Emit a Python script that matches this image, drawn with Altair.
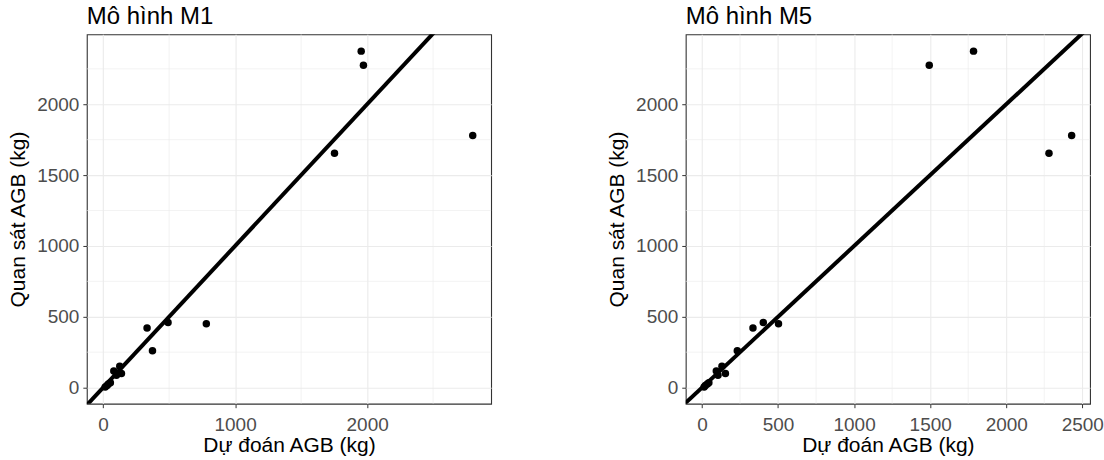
import altair as alt
import pandas as pd

# Observed AGB (kg) and predictions from two models
observed = [5, 15, 25, 35, 87, 99, 117, 150, 260, 420, 460, 450, 1655, 1780, 2275, 2375]
pred_m1 = [16, 30, 40, 55, 101, 139, 81, 126, 374, 333, 492, 782, 1753, 2800, 1972, 1955]
pred_m5 = [14, 22, 35, 45, 105, 154, 94, 131, 232, 335, 403, 503, 2281, 2430, 1494, 1785]

y_major = [0, 500, 1000, 1500, 2000]
y_minor = [250, 750, 1250, 1750, 2250]
m1_x_major = [0, 1000, 2000]
m1_x_minor = [500, 1500, 2500]
m5_x_major = [0, 500, 1000, 1500, 2000, 2500]
m5_x_minor = [250, 750, 1250, 1750, 2250]

FONT = "Liberation Sans"
GRID = "#EBEBEB"


def expanded(values, frac=0.05):
    lo, hi = min(values), max(values)
    pad = (hi - lo) * frac
    return [lo - pad, hi + pad]


def panel(title, pred, x_major, x_minor):
    pts = pd.DataFrame({"pred": pred, "obs": observed})
    xdom = expanded(pred)
    ydom = expanded(observed)
    xs = alt.Scale(domain=xdom, nice=False, zero=False)
    ys = alt.Scale(domain=ydom, nice=False, zero=False)

    xaxis = alt.Axis(values=x_major, format="d", title="Dự đoán AGB (kg)", grid=True,
                     gridColor=GRID, gridWidth=1.1, domain=False,
                     tickColor="#333333", tickSize=4, labelPadding=8,
                     labelFontSize=19, labelColor="#4D4D4D", labelFont=FONT,
                     titleFont=FONT, titleFontSize=21, titleFontWeight="normal",
                     titleColor="black", titlePadding=0)
    yaxis = alt.Axis(values=y_major, format="d", title="Quan sát AGB (kg)", grid=True,
                     gridColor=GRID, gridWidth=1.1, domain=False,
                     tickColor="#333333", tickSize=4, labelPadding=4,
                     labelFontSize=19, labelColor="#4D4D4D", labelFont=FONT,
                     titleFont=FONT, titleFontSize=21, titleFontWeight="normal",
                     titleColor="black", titlePadding=8)

    vminor = alt.Chart(pd.DataFrame({"v": x_minor})).mark_rule(
        color=GRID, strokeWidth=0.6).encode(x=alt.X("v:Q", scale=xs, axis=xaxis))
    hminor = alt.Chart(pd.DataFrame({"v": y_minor})).mark_rule(
        color=GRID, strokeWidth=0.6).encode(y=alt.Y("v:Q", scale=ys, axis=yaxis))

    # 1:1 reference line y = x, clipped to the panel
    span = [min(xdom[0], ydom[0]) - 100, max(xdom[1], ydom[1]) + 100]
    line = alt.Chart(pd.DataFrame({"a": span, "b": span})).mark_line(
        color="black", strokeWidth=4, clip=True).encode(
        x=alt.X("a:Q", scale=xs, axis=xaxis),
        y=alt.Y("b:Q", scale=ys, axis=yaxis))

    dots = alt.Chart(pts).mark_circle(color="black", opacity=1, size=56).encode(
        x=alt.X("pred:Q", scale=xs, axis=xaxis),
        y=alt.Y("obs:Q", scale=ys, axis=yaxis))

    return alt.layer(vminor, hminor, line, dots).properties(
        width=405, height=370,
        title=alt.TitleParams(title, anchor="start", frame="group",
                              font=FONT, fontSize=24, fontWeight="normal",
                              color="black", offset=5))


left = panel("Mô hình M1", pred_m1, m1_x_major, m1_x_minor)
right = panel("Mô hình M5", pred_m5, m5_x_major, m5_x_minor)

chart = alt.hconcat(left, right, spacing=114).configure_view(
    stroke="#333333", strokeWidth=1.1
).properties(padding={"left": 7, "top": 4, "right": 0, "bottom": 0})

chart.save("out.html", embed_options={"renderer": "svg", "actions": False})
